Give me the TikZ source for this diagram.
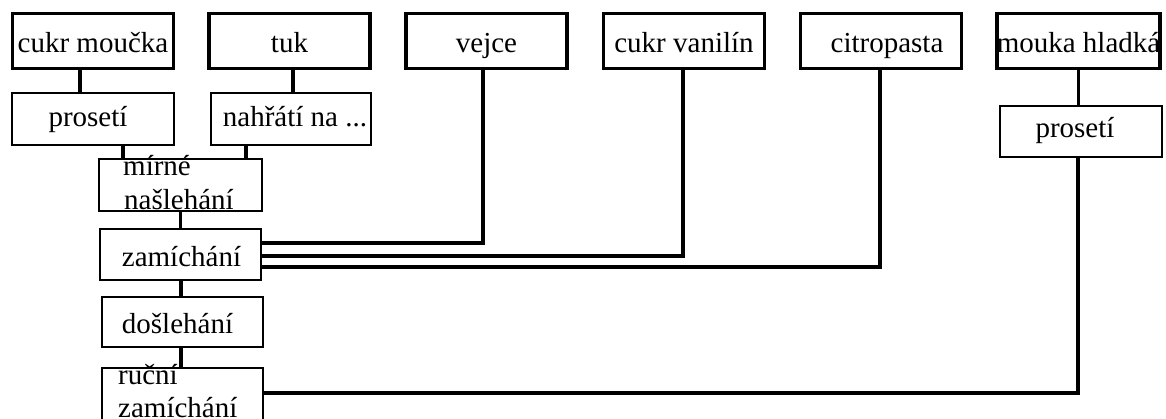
\documentclass[tikz,border=0pt]{standalone}
\usepackage{fontspec}
\setmainfont{Liberation Serif}
\begin{document}
\begin{tikzpicture}[x=1pt,y=-1pt,
  topbox/.style={draw,line width=3.6pt,minimum width=161pt,minimum height=55pt,inner sep=0pt,text height=24pt,text depth=0pt,font=\fontsize{29}{34}\selectfont},
  subbox/.style={draw,line width=2.3pt,inner sep=0pt,text height=16pt,text depth=0pt,font=\fontsize{29}{34}\selectfont},
  txt/.style={inner sep=0pt,anchor=base west,font=\fontsize{29}{34}\selectfont},
  conn/.style={line width=3.6pt}]
\useasboundingbox (0,0) rectangle (1166,419);
% top row
\node[topbox] (cm) at (93,41) {cukr moučka};
\node[topbox] (tuk) at (289.5,41) {tuk};
\node[topbox] (vejce) at (486.5,41) {vejce};
\node[topbox] (cv) at (684,41) {cukr vanilín};
\node[topbox] (citro) at (881,41) {\hspace*{12pt}citropasta};
\node[topbox] (mouka) at (1078.5,41) {mouka hladká};
% second row
\node[subbox,minimum width=162pt,minimum height=52pt] (p1) at (93,119) {\hspace*{-10pt}prosetí};
\node[subbox,minimum width=160pt,minimum height=52pt] (nahr) at (291,119) {\hspace*{8pt}nahřátí na ...};
\node[subbox,minimum width=162pt,minimum height=51pt,text height=13pt] (p2) at (1081,131.5) {\hspace*{-12pt}prosetí};
% chain
\node[subbox,minimum width=163pt,minimum height=52pt] (mirne) at (180.5,185) {};
\node[txt] (mirnet) at (123,176) {mírné};
\node[txt] (naslt) at (124,210) {našlehání};
\node[subbox,minimum width=161pt,minimum height=51pt,text height=25pt] (zam) at (180.5,254.5) {\hspace*{2pt}zamíchání};
\node[subbox,minimum width=161pt,minimum height=50pt,text height=22pt] (dosl) at (182.5,322) {\hspace*{-10pt}došlehání};
\node[subbox,minimum width=161pt,minimum height=72pt] (rucni) at (182.5,404) {};
\node[txt] (rucnit) at (118,384) {ruční};
\node[txt] (zamt) at (118,417) {zamíchání};
% connectors
\draw[conn] ([xshift=-13pt]cm.south) -- ([xshift=-13pt]cm.south |- p1.north);
\draw[conn] ([xshift=3.5pt]tuk.south) -- ([xshift=3.5pt]tuk.south |- nahr.north);
\draw[conn] ([xshift=30pt]p1.south) -- ([xshift=30pt]p1.south |- mirne.north);
\draw[conn] ([xshift=-45pt]nahr.south) -- ([xshift=-45pt]nahr.south |- mirne.north);
\draw[conn] (mirne.south) -- (mirne.south |- zam.north);
\draw[conn] ([xshift=0.5pt]zam.south) -- ([xshift=0.5pt]zam.south |- dosl.north);
\draw[conn] ([xshift=-1.5pt]dosl.south) -- ([xshift=-1.5pt]dosl.south |- rucni.north);
\draw[conn] ([yshift=11.5pt]zam.east) -| ([xshift=-3.5pt]vejce.south);
\draw[conn] ([yshift=-1.5pt]zam.east) -| ([xshift=-1pt]cv.south);
\draw[conn] ([yshift=-12.5pt]zam.east) -| ([xshift=-1pt]citro.south);
\draw[conn] (mouka.south) -- (mouka.south |- p2.north);
\draw[conn] ([yshift=11pt]rucni.east) -| ([xshift=-3pt]p2.south);
\end{tikzpicture}
\end{document}
